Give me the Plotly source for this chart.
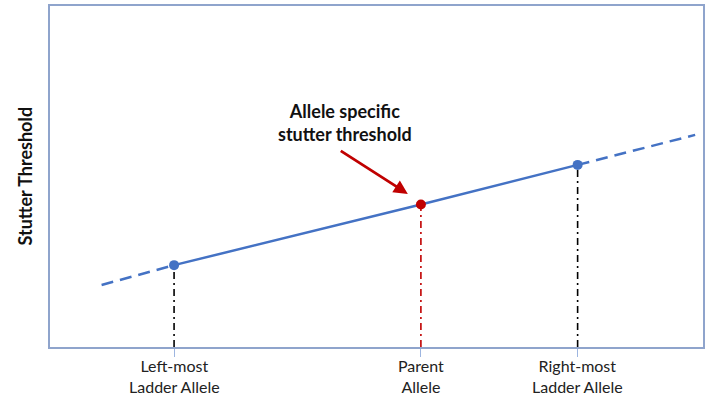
import plotly.graph_objects as go

# Data
categories = ["Left-most<br>Ladder Allele", "Parent<br>Allele", "Right-most<br>Ladder Allele"]
allele_x = [1.90, 5.68, 8.08]
threshold = [2.40, 4.18, 5.34]
ext_left_x = [0.79, 1.90]
ext_left_y = [1.82, 2.40]
ext_right_x = [8.08, 9.88]
ext_right_y = [5.34, 6.22]
point_colors = ["#4472C4", "#C00000", "#4472C4"]
drop_colors = ["#000000", "#C00000", "#000000"]

BLUE = "#4472C4"
RED = "#C00000"
FONT = "Lato, Open Sans, sans-serif"

fig = go.Figure()

# dashed extrapolations
for xs, ys in [(ext_left_x, ext_left_y), (ext_right_x, ext_right_y)]:
    fig.add_trace(go.Scatter(x=xs, y=ys, mode="lines",
                             line=dict(color=BLUE, width=2.5, dash="12px,7px"),
                             hoverinfo="skip", showlegend=False))

# vertical drop lines
for xv, yv, c in zip(allele_x, threshold, drop_colors):
    fig.add_trace(go.Scatter(x=[xv, xv], y=[0, yv], mode="lines",
                             line=dict(color=c, width=1.6, dash="7px,4px,2px,4px"),
                             hoverinfo="skip", showlegend=False))

# solid line between ladder alleles
fig.add_trace(go.Scatter(x=allele_x, y=threshold, mode="lines",
                         line=dict(color=BLUE, width=2.5),
                         hoverinfo="skip", showlegend=False))

# points
fig.add_trace(go.Scatter(x=allele_x, y=threshold, mode="markers",
                         marker=dict(color=point_colors, size=10),
                         showlegend=False))

# arrow
fig.add_annotation(x=5.48, y=4.49, ax=4.43, ay=5.78, xref="x", yref="y",
                   axref="x", ayref="y", showarrow=True, arrowhead=2,
                   arrowsize=1, arrowwidth=2.8, arrowcolor=RED, text="")
fig.add_annotation(x=4.52, y=6.58, xref="x", yref="y", showarrow=False,
                   text="<b>Allele specific<br>stutter threshold</b>",
                   font=dict(family=FONT, size=18, color="#111"),
                   align="center")

# category labels
for xv, lab in zip(allele_x, categories):
    fig.add_annotation(x=xv, y=0, xref="x", yref="paper", yanchor="top",
                       xanchor="center", yshift=-8, showarrow=False, text=lab,
                       align="center", borderpad=0,
                       font=dict(family=FONT, size=16, color="#222"))

# y title
fig.add_annotation(x=0, y=0.5, xref="paper", yref="paper", xshift=-26,
                   xanchor="center", yanchor="middle",
                   showarrow=False, textangle=-90,
                   text="<b>Stutter Threshold</b>",
                   font=dict(family=FONT, size=18, color="#111"))

fig.update_xaxes(range=[0, 10], tickvals=allele_x, showticklabels=False,
                 ticks="outside", ticklen=8, tickwidth=1, tickcolor="#9DB5E0",
                 showgrid=False, zeroline=False, showline=True, mirror=True,
                 linecolor="#8FA4CC", linewidth=2, automargin=False)
fig.update_yaxes(range=[0, 10], showticklabels=False, ticks="",
                 showgrid=False, zeroline=False, showline=True, mirror=True,
                 linecolor="#8FA4CC", linewidth=2, automargin=False)

fig.update_layout(width=710, height=396, margin=dict(l=50, r=7, t=6, b=49),
                  plot_bgcolor="white", paper_bgcolor="white",
                  font=dict(family=FONT))

fig.write_html("out.html", config={"displayModeBar": False},
               post_script="document.body.style.margin='0px';")
